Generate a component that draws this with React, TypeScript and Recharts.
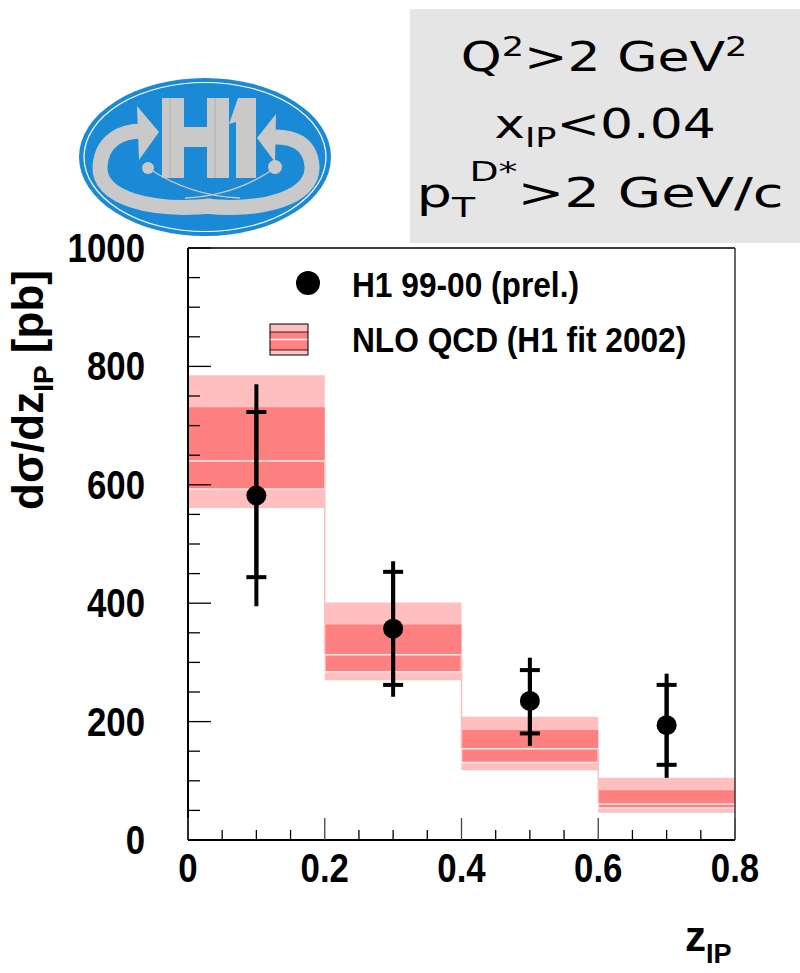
import React from 'react';
import { ComposedChart, XAxis, YAxis, Scatter, ErrorBar, ReferenceArea, ReferenceLine } from 'recharts';

// NLO QCD prediction bins
const binLow = [0, 0.2, 0.4, 0.6];
const binHigh = [0.2, 0.4, 0.6, 0.8];
const nloCentral = [640, 313, 154, 61];
const nloOuterLow = [561, 270, 118, 46];
const nloOuterHigh = [785, 401, 208, 105];
const nloInnerLow = [593, 284, 131, 54];
const nloInnerHigh = [731, 364, 186, 84];

// H1 data points
const zPoints = [0.1, 0.3, 0.5, 0.7];
const sigma = [582, 357, 235, 194];
const totLow = [395, 242, 159, 105];
const totHigh = [770, 471, 308, 281];
const statLow = [444, 262, 180, 127];
const statHigh = [723, 453, 287, 262];

// Axis ticks
const xTicks = [0, 0.05, 0.1, 0.15, 0.2, 0.25, 0.3, 0.35, 0.4, 0.45, 0.5, 0.55, 0.6, 0.65, 0.7, 0.75, 0.8];
const xTickLabels = ['0', '0.2', '0.4', '0.6', '0.8'];
const yTicks = [0, 50, 100, 150, 200, 250, 300, 350, 400, 450, 500, 550, 600, 650, 700, 750, 800, 850, 900, 950, 1000];
const yTickLabels = ['0', '200', '400', '600', '800', '1000'];

const LIGHT = '#ffbfbf';
const DARK = '#ff8080';
const HELV = '"Liberation Sans", Arial, Helvetica, sans-serif';

const points = zPoints.map((z, i) => ({
  x: z,
  y: sigma[i],
  tot: [sigma[i] - totLow[i], totHigh[i] - sigma[i]],
  stat: [sigma[i] - statLow[i], statHigh[i] - sigma[i]],
}));

const XTick = (props: any) => {
  const { x, y, payload } = props;
  const v = payload.value as number;
  const idx = Math.round(v * 5);
  const major = Math.abs(v * 5 - idx) < 1e-6;
  return (
    <g>
      <line x1={x} x2={x} y1={y} y2={y - (major ? 22 : 10)} stroke={major ? '#444' : '#000'} strokeWidth={1.3} />
      {major && (
        <text
          transform={`translate(${x},${y + 42}) scale(0.87,1)`}
          textAnchor="middle"
          fontFamily={HELV}
          fontWeight="bold"
          fontSize={40}
          fill="#000"
        >
          {xTickLabels[idx]}
        </text>
      )}
    </g>
  );
};

const YTick = (props: any) => {
  const { x, y, payload } = props;
  const v = payload.value as number;
  const major = v % 200 === 0;
  return (
    <g>
      <line x1={x} x2={x + (major ? 23 : 12)} y1={y} y2={y} stroke="#000" strokeWidth={1.3} />
      {major && (
        <text
          transform={`translate(${x - 43},${y + 14}) scale(0.87,1)`}
          textAnchor="end"
          fontFamily={HELV}
          fontWeight="bold"
          fontSize={40}
          fill="#000"
        >
          {yTickLabels[v / 200]}
        </text>
      )}
    </g>
  );
};

const Dot = (props: any) => <circle cx={props.cx} cy={props.cy} r={10} fill="#000" />;

const Logo = () => (
  <g>
    <ellipse cx={205} cy={157} rx={126} ry={79} fill="#1a8ad6" />
    <ellipse cx={205} cy={157} rx={121} ry={74.5} fill="none" stroke="#ffffff" strokeWidth={1.2} />
    {/* bottom swooshes */}
    <path d="M 212 206 C 150 212, 98 198, 100 166 C 102 140, 122 131, 142 131" fill="none" stroke="#c9c9c9" strokeWidth={15} />
    <polygon points="137,106 159,132 139,160" fill="#c9c9c9" />
    <path d="M 205 206 C 262 212, 314 198, 312 166 C 310 142, 292 137, 275 137" fill="none" stroke="#c9c9c9" strokeWidth={15} />
    <polygon points="276,114 257,138 275,162" fill="#c9c9c9" />
    {/* thin crossing lines */}
    <path d="M 148 168 Q 190 196, 240 198" fill="none" stroke="#c9c9c9" strokeWidth={1.3} />
    <path d="M 275 168 Q 235 196, 185 198" fill="none" stroke="#c9c9c9" strokeWidth={1.3} />
    <circle cx={148} cy={168} r={6} fill="#c9c9c9" />
    <circle cx={275} cy={167} r={7} fill="#c9c9c9" />
    {/* H */}
    <rect x={162} y={98} width={22} height={80} fill="#c9c9c9" />
    <rect x={207} y={98} width={22} height={80} fill="#c9c9c9" />
    <rect x={184} y={127} width={23} height={20} fill="#c9c9c9" />
    <line x1={170} y1={98} x2={170} y2={178} stroke="#b0b0b0" strokeWidth={1} />
    <line x1={215} y1={98} x2={215} y2={178} stroke="#b0b0b0" strokeWidth={1} />
    {/* 1 */}
    <polygon points="238,98 256,98 256,178 236,178 236,122 229,124" fill="#c9c9c9" />
  </g>
);

const Overlay = () => (
  <svg width={800} height={973} style={{ position: 'absolute', left: 0, top: 0, pointerEvents: 'none' }}>
    <Logo />
    <rect x={410} y={9} width={390} height={234} fill="#e5e5e5" />
    <g fontFamily='"DejaVu Sans", sans-serif' fill="#000" fontSize={40}>
      <text transform="translate(604,71) scale(1.3,1)" textAnchor="middle">
        Q<tspan fontSize={27} dy={-15}>2</tspan><tspan dy={15}>{'>2 GeV'}</tspan><tspan fontSize={27} dy={-15}>2</tspan>
      </text>
      <text transform="translate(605,138) scale(1.3,1)" textAnchor="middle">
        x<tspan fontSize={27} dy={9}>IP</tspan><tspan dy={-9}>{'<0.04'}</tspan>
      </text>
      <text transform="translate(600,207) scale(1.4,1)" textAnchor="middle">
        p<tspan fontSize={27} dy={10}>T</tspan><tspan fontSize={27} dx={-4} dy={-36}>D*</tspan><tspan dy={26}>{'>2 GeV/c'}</tspan>
      </text>
    </g>
    {/* legend */}
    <circle cx={308} cy={283} r={12} fill="#000" />
    <text transform="translate(352,297) scale(0.88,1)" fontFamily={HELV} fontWeight="bold" fontSize={36} fill="#000">
      H1 99-00 (prel.)
    </text>
    <rect x={270} y={324} width={38} height={31} fill={LIGHT} />
    <rect x={270} y={332} width={38} height={18} fill={DARK} />
    <line x1={270} x2={308} y1={339.5} y2={339.5} stroke="#fff" strokeWidth={1.5} />
    <line x1={270} x2={308} y1={332} y2={332} stroke="#000" strokeWidth={0.8} />
    <line x1={270} x2={308} y1={350} y2={350} stroke="#000" strokeWidth={0.8} />
    <rect x={270} y={324} width={38} height={31} fill="none" stroke="#000" strokeWidth={1} />
    <text transform="translate(352,352) scale(0.88,1)" fontFamily={HELV} fontWeight="bold" fontSize={36} fill="#000">
      NLO QCD (H1 fit 2002)
    </text>
    {/* axis titles */}
    <text transform="translate(43,390) rotate(-90)" textAnchor="middle" fontFamily={HELV} fontWeight="bold" fontSize={44} fill="#000">
      dσ/dz<tspan fontSize={28} dy={10}>IP</tspan><tspan dy={-10}> [pb]</tspan>
    </text>
    <text x={685} y={951} fontFamily={HELV} fontWeight="bold" fontSize={42} fill="#000">
      z<tspan fontSize={27} dy={12}>IP</tspan>
    </text>
  </svg>
);

export default function App() {
  return (
    <div style={{ position: 'absolute', left: 0, top: 0, width: 800, height: 973, background: '#fff' }}>
      <ComposedChart width={800} height={973} data={points} margin={{ top: 248, right: 65, bottom: 73, left: 0 }}>
        <XAxis
          type="number"
          dataKey="x"
          domain={[0, 0.8]}
          ticks={xTicks}
          interval={0}
          tickSize={0}
          tickMargin={0}
          tick={<XTick />}
          axisLine={{ stroke: '#000', strokeWidth: 2 }}
          tickLine={false}
          height={60}
          allowDataOverflow
        />
        <YAxis
          type="number"
          domain={[0, 1000]}
          ticks={yTicks}
          interval={0}
          tickSize={0}
          tickMargin={0}
          tick={<YTick />}
          axisLine={{ stroke: '#000', strokeWidth: 2 }}
          tickLine={false}
          width={188}
          allowDataOverflow
        />
        {binLow.slice(1).map((b, i) => (
          <ReferenceLine
            key={`conn${i}`}
            segment={[{ x: b, y: nloCentral[i] }, { x: b, y: nloCentral[i + 1] }]}
            stroke={LIGHT}
            strokeWidth={1.5}
          />
        ))}
        {binLow.map((b, i) => (
          <ReferenceArea key={`o${i}`} x1={b} x2={binHigh[i]} y1={nloOuterLow[i]} y2={nloOuterHigh[i]} fill={LIGHT} fillOpacity={1} stroke="none" />
        ))}
        {binLow.map((b, i) => (
          <ReferenceArea key={`d${i}`} x1={b} x2={binHigh[i]} y1={nloInnerLow[i]} y2={nloInnerHigh[i]} fill={DARK} fillOpacity={1} stroke="none" />
        ))}
        {binLow.map((b, i) => (
          <ReferenceArea key={`c${i}`} x1={b} x2={binHigh[i]} y1={nloInnerLow[i]} y2={nloCentral[i]} fill={DARK} fillOpacity={1} stroke="#ffe8e8" strokeWidth={1.5} />
        ))}
        <ReferenceLine y={1000} stroke="#000" strokeWidth={1.5} />
        <ReferenceLine x={0.8} stroke="#333" strokeWidth={1.5} />
        <Scatter dataKey="y" fill="#000" shape={<Dot />} isAnimationActive={false}>
          <ErrorBar dataKey="tot" direction="y" width={0} stroke="#000" strokeWidth={4} />
          <ErrorBar dataKey="stat" direction="y" width={10} stroke="#000" strokeWidth={4} />
        </Scatter>
      </ComposedChart>
      <Overlay />
    </div>
  );
}
